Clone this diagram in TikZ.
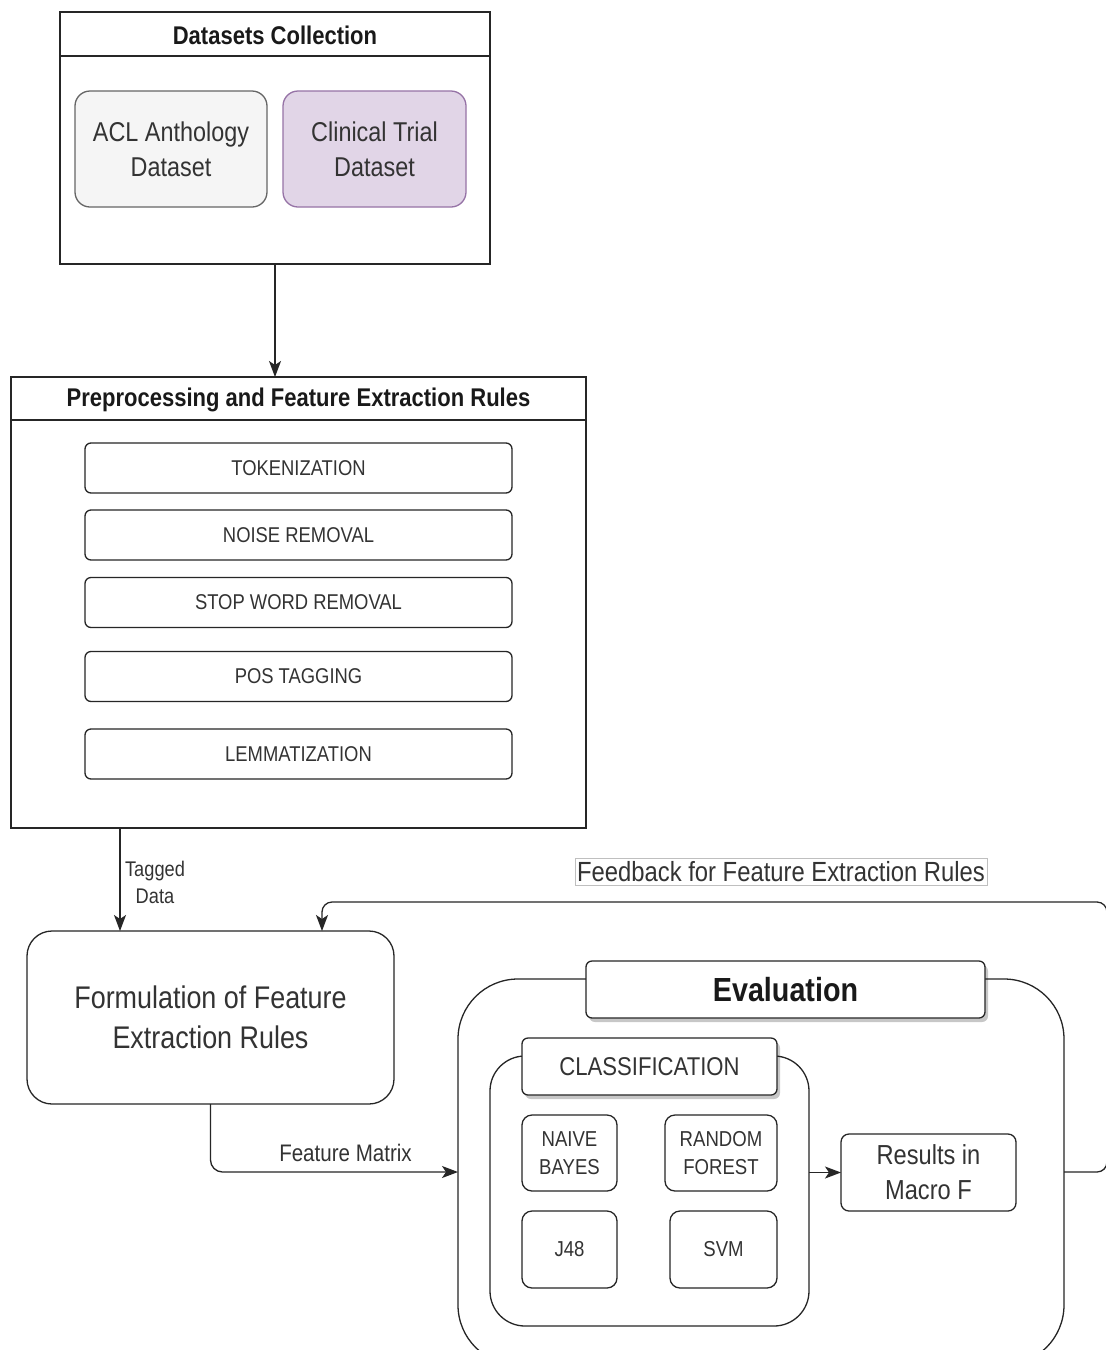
\documentclass[tikz,border=0pt]{standalone}
\usepackage{fontspec}
\setmainfont{Liberation Sans}[FakeStretch=0.86]
\usetikzlibrary{arrows.meta,shadows}
\definecolor{txt}{HTML}{333333}
\definecolor{aclfill}{HTML}{F5F5F5}
\definecolor{acldraw}{HTML}{666666}
\definecolor{clfill}{HTML}{E1D5E7}
\definecolor{cldraw}{HTML}{9673A6}
\newcommand{\fs}[1]{\fontsize{#1}{1.28\dimexpr#1pt\relax}\selectfont}
\begin{document}
\begin{tikzpicture}[x=1pt,y=-1pt,
  every node/.style={inner sep=0pt, outer sep=0pt, text=txt},
  ln/.style={line width=1.3pt, draw=black!85},
  arr/.style={ln, -{Stealth[length=16pt,width=12pt,inset=4pt]}},
  plainbox/.style={ln, rectangle, fill=white},
  itembox/.style={ln, rectangle, rounded corners=6pt, fill=white, minimum width=427pt, minimum height=50pt, font=\fs{21.4}},
  algbox/.style={ln, rectangle, rounded corners=10pt, fill=white, align=center, font=\fs{21.6}},
  hdrbox/.style={ln, rectangle, rounded corners=6pt, fill=white,
     drop shadow={shadow xshift=3pt, shadow yshift=-4pt, fill=black, opacity=0.22}},
  lbl/.style={align=center, text=txt}
]
\useasboundingbox (0,0) rectangle (1106,1350);
\fill[white] (0,0) rectangle (1106,1350);

% Datasets collection
\node[plainbox, minimum width=430pt, minimum height=252pt] (ds) at (275,138) {};
\draw[ln] (60,56) -- (490,56);
\node[font=\bfseries\fs{25.6}, text=black!90] (dsh) at (275,35) {Datasets Collection};
\node[ln, draw=acldraw, fill=aclfill, rounded corners=15pt, minimum width=192pt, minimum height=116pt, align=center, font=\fs{27.2}] (acl) at (171,149) {ACL Anthology\\Dataset};
\node[ln, draw=cldraw, fill=clfill, rounded corners=15pt, minimum width=183pt, minimum height=116pt, align=center, font=\fs{27.2}] (clin) at (374.5,149) {Clinical Trial\\Dataset};

% Preprocessing
\node[plainbox, minimum width=575pt, minimum height=451pt] (prep) at (298.5,602.5) {};
\draw[ln] (11,420) -- (586,420);
\node[font=\bfseries\fs{25.6}, text=black!90] (preph) at (298.5,400) {Preprocessing and Feature Extraction Rules};
\node[itembox] (tok) at (298.5,468) {TOKENIZATION};
\node[itembox] (noise) at (298.5,535) {NOISE REMOVAL};
\node[itembox] (stop) at (298.5,602.5) {STOP WORD REMOVAL};
\node[itembox] (pos) at (298.5,676.5) {POS TAGGING};
\node[itembox] (lem) at (298.5,754) {LEMMATIZATION};

\draw[arr] (ds.south) -- (prep.north -| ds.south);

% Formulation
\node[ln, rectangle, rounded corners=25pt, fill=white, minimum width=367pt, minimum height=173pt, align=center, font=\fs{31.3}] (form) at (210.5,1017.5) {Formulation of Feature\\Extraction Rules};

\coordinate (tagx) at (120,0);
\draw[arr] (prep.south -| tagx) -- (form.north -| tagx);
\node[lbl, font=\fs{21.2}, align=center] (tagl) at (155,882) {Tagged\\Data};

% Evaluation
\node[ln, rectangle, rounded corners=60pt, fill=white, minimum width=606pt, minimum height=386pt] (eval) at (761,1172) {};
\node[hdrbox, minimum width=399pt, minimum height=57pt, font=\bfseries\fs{33.4}, text=black!90] (evalh) at (785.5,989.5) {Evaluation};
\node[ln, rectangle, rounded corners=35pt, fill=white, minimum width=319pt, minimum height=270pt] (cls) at (649.5,1191) {};
\node[hdrbox, minimum width=255pt, minimum height=57pt, font=\fs{25.7}] (clsh) at (649.5,1066.5) {CLASSIFICATION};
\node[algbox, minimum width=95pt, minimum height=76pt] (nb) at (569.5,1153) {NAIVE\\BAYES};
\node[algbox, minimum width=112pt, minimum height=76pt] (rf) at (721,1153) {RANDOM\\FOREST};
\node[algbox, minimum width=95pt, minimum height=77pt] (j48) at (569.5,1249.5) {J48};
\node[algbox, minimum width=107pt, minimum height=77pt] (svm) at (723.5,1249.5) {SVM};
\node[ln, rectangle, rounded corners=8pt, fill=white, minimum width=175pt, minimum height=77pt, align=center, font=\fs{27.5}] (res) at (928.5,1172.5) {Results in\\Macro F};
\draw[arr] (res.west -| cls.east) -- (res.west);

% Feature matrix
\draw[arr, rounded corners=12pt] (form.south) -- (form.south |- eval.west) -- (eval.west);
\node[lbl, font=\fs{23.9}] (fml) at (345.5,1153) {Feature Matrix};

% Feedback
\coordinate (fbR) at (1107,902);
\draw[arr, rounded corners=10pt] (eval.east) -- (eval.east -| fbR) -- (fbR) -- (fbR -| 322,0) -- (form.north -| 322,0);
\node[draw=black!25, line width=0.8pt, inner xsep=2pt, inner ysep=3pt, font=\fs{27.7}] (fbl) at (781,872) {Feedback for Feature Extraction Rules};
\end{tikzpicture}
\end{document}
